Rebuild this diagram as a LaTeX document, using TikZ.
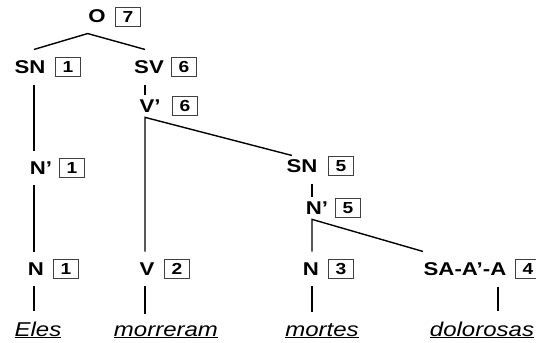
\documentclass[tikz,border=0pt]{standalone}
\usepackage{fontspec}
\newfontfamily\treefont{Liberation Sans}[FakeStretch=1.2]
\usetikzlibrary{positioning}

\tikzset{
  cat/.style={font=\treefont\bfseries\fontsize{18.5}{22}\selectfont, inner sep=0pt, outer ysep=11pt},
  idx/.style={draw=black!75, line width=0.6pt, font=\treefont\bfseries\fontsize{16}{19}\selectfont,
    minimum width=25pt, minimum height=19pt, inner sep=0pt},
  word/.style={font=\treefont\itshape\fontsize{20}{23}\selectfont, inner sep=0pt, outer ysep=11pt, anchor=base},
}

\begin{document}
\begin{tikzpicture}[x=1pt, y=-1pt, line width=1.4pt]
    \useasboundingbox (0,0) rectangle (536,343);

    \coordinate (c1) at (34,0);
    \coordinate (c2) at (145,0);
    \coordinate (c3) at (312,0);
    \coordinate (c4) at (498,0);

    \node[cat] (o) at (97,16) {O};
    \node[idx] (oi) at (128,17) {7};

    \node[cat] (sn1) at (30,67) {SN};
    \node[idx] (sn1i) at (68,67) {1};
    \node[cat] (sv6) at (149,67) {SV};
    \node[idx] (sv6i) at (184,67) {6};
    \node[cat, outer ysep=5pt] (vp6) at (150,106) {V’};
    \node[idx] (vp6i) at (185,106) {6};

    \node[cat] (np1) at (41,168) {N’};
    \node[idx] (np1i) at (72,168) {1};
    \node[cat] (sn5) at (302,166) {SN};
    \node[idx] (sn5i) at (341,166) {5};
    \node[cat, outer ysep=5pt] (np5) at (317,208) {N’};
    \node[idx] (np5i) at (348,208) {5};

    \node[cat] (n1) at (36,269) {N};
    \node[idx] (n1i) at (66,269) {1};
    \node[cat] (v2) at (147,269) {V};
    \node[idx] (v2i) at (177,269) {2};
    \node[cat] (n3) at (311,269) {N};
    \node[idx] (n3i) at (341,269) {3};
    \node[cat] (sa4) at (465,269) {SA-A’-A};
    \node[idx] (sa4i) at (528,269) {4};

    \node[word] (eles) at (38,336) {\underline{Eles}};
    \node[word] (morreram) at (166,336) {\underline{morreram}};
    \node[word] (mortes) at (322,336) {\underline{mortes}};
    \node[word] (dolorosas) at (482,336) {\underline{dolorosas}};

    \draw (sn1.north -| c1) -- (o.south west) -- (sv6.north -| c2);
    \draw (sn1.south -| c1) -- (np1.north -| c1);
    \draw (np1.south -| c1) -- (n1.north -| c1);
    \draw (n1.south -| c1) -- (eles.north -| c1);

    \draw (sv6.south -| c2) -- (vp6.north -| c2);
    \draw (v2.north -| c2) -- (vp6.south -| c2) -- ([xshift=6pt,yshift=-7pt]sn5.north west);
    \draw (v2.south -| c2) -- (morreram.north -| c2);

    \draw (sn5.south -| c3) -- (np5.north -| c3);
    \draw (n3.north -| c3) -- (np5.south -| c3) -- (sa4.north west);
    \draw (n3.south -| c3) -- (mortes.north -| c3);
    \draw (sa4.south -| c4) -- (dolorosas.north -| c4);
\end{tikzpicture}
\end{document}
